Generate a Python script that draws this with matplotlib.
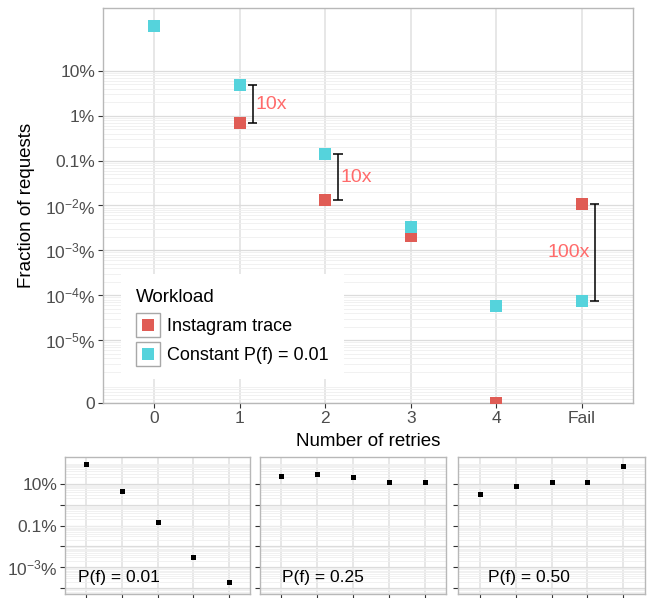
import matplotlib
matplotlib.use('Agg')
import numpy as np
import matplotlib.pyplot as plt
from matplotlib.lines import Line2D
from matplotlib.legend_handler import HandlerTuple
from matplotlib.ticker import FixedLocator

plt.rcParams['font.family'] = ['Liberation Sans', 'DejaVu Sans']
plt.rcParams['mathtext.fontset'] = 'custom'
plt.rcParams['mathtext.rm'] = 'Liberation Sans'
plt.rcParams['mathtext.it'] = 'Liberation Sans:italic'
plt.rcParams['mathtext.bf'] = 'Liberation Sans:bold'

# main panel data (fraction of requests)
retries = ['0', '1', '2', '3', '4', 'Fail']
instagram = [0.99, 0.0068, 0.000129, 2.1e-5, 0.0, 1.07e-4]
constant = [0.965, 0.047, 0.0014, 3.3e-5, 5.9e-7, 7.6e-7]

# ratio brackets drawn between the two series
bracket_idx = [1, 2, 5]
bracket_txt = ['10x', '10x', '100x']

# small panels
small_retries = ['0', '1', '2', '3', 'Fail']
small_pf = ['0.01', '0.25', '0.50']
small_vals = [
    [0.89, 0.045, 0.0014, 3.0e-5, 2.1e-6],
    [0.22, 0.29, 0.21, 0.115, 0.115],
    [0.031, 0.077, 0.115, 0.125, 0.66],
]

ZERO = 4e-9  # where "0" sits on the log axis

RED = '#E05C55'
CYAN = '#55D3DC'
NOTE = '#FF6B6B'
GRID_MAJ = '#DCDCDC'
GRID_MIN = '#EFEFEF'
SPINE = '#B8B8B8'
TICKLAB = '#4D4D4D'


def style_axes(ax):
    for s in ax.spines.values():
        s.set_color(SPINE)
        s.set_linewidth(1.0)
    ax.tick_params(which='major', length=3.5, width=0.8, color='#333333',
                   labelcolor=TICKLAB, labelsize=12.5, pad=2)
    ax.tick_params(which='minor', length=0)
    ax.grid(True, which='major', axis='y', color=GRID_MAJ, lw=0.9, zorder=0)
    ax.grid(True, which='minor', axis='y', color=GRID_MIN, lw=0.6, zorder=0)
    ax.grid(True, which='major', axis='x', color='#E3E3E3', lw=1.2, zorder=0)
    ax.set_axisbelow(True)


def minor_lines(lo, hi, dmin, dmax):
    vals = []
    for d in range(dmin, dmax):
        for s in range(2, 10):
            v = s * 10.0 ** d
            if lo < v < hi:
                vals.append(v)
    return vals


fig = plt.figure(figsize=(6.47, 5.98), dpi=100)
W, H = 647, 598

# ---- main panel ----
ax = fig.add_axes([103 / W, 1 - 403 / H, 530 / W, 395 / H])
x = np.arange(len(retries))
ax.set_yscale('log')
ax.set_xlim(-0.6, len(retries) - 0.4)
ax.set_ylim(ZERO, 2.49)

ig = [v if v > 0 else ZERO for v in instagram]
ax.plot(x, ig, 's', color=RED, ms=8, mew=0, zorder=3)
ax.plot(x, constant, 's', color=CYAN, ms=8, mew=0, zorder=4)

yt = [ZERO, 1e-7, 1e-6, 1e-5, 1e-4, 1e-3, 1e-2, 1e-1]
ytl = ['0', r'$10^{-5}$%', r'$10^{-4}$%', r'$10^{-3}$%', r'$10^{-2}$%',
       '0.1%', '1%', '10%']
ax.yaxis.set_major_locator(FixedLocator(yt))
ax.set_yticklabels(ytl)
ax.yaxis.set_minor_locator(FixedLocator(minor_lines(ZERO, 0.1, -9, -1)))
ax.yaxis.set_minor_formatter(plt.NullFormatter())
ax.set_xticks(x)
ax.set_xticklabels(retries)
style_axes(ax)
ax.set_ylabel('Fraction of requests', fontsize=13.5, labelpad=7)
ax.set_xlabel('Number of retries', fontsize=13.5, labelpad=5)

for i, t in zip(bracket_idx, bracket_txt):
    lo = min(ig[i], constant[i])
    hi = max(ig[i], constant[i])
    bx = x[i] + 0.15
    ax.vlines(bx, lo, hi, color='black', lw=1.1, zorder=5)
    ax.hlines([lo, hi], bx - 0.055, bx + 0.055, color='black', lw=1.1, zorder=5)
    mid = np.sqrt(lo * hi)
    if i == len(retries) - 1:
        ax.text(bx - 0.05, mid, t, color=NOTE, fontsize=14, ha='right', va='center')
    else:
        ax.text(bx + 0.03, mid, t, color=NOTE, fontsize=14, ha='left', va='center')

key_box = Line2D([], [], marker='s', ms=17.5, mfc='white', mec='#A8A8A8',
                 mew=1.0, ls='')
h_red = Line2D([], [], marker='s', ms=8, color=RED, mew=0, ls='')
h_cyan = Line2D([], [], marker='s', ms=8, color=CYAN, mew=0, ls='')
leg = ax.legend([(key_box, h_red), (key_box, h_cyan)],
                ['Instagram trace', 'Constant P(f) = 0.01'],
                handler_map={tuple: HandlerTuple(ndivide=1, pad=0)},
                title='Workload', loc='lower left',
                bbox_to_anchor=(0.034, 0.06), borderaxespad=0,
                fontsize=13, title_fontsize=13.5, alignment='left',
                frameon=True, fancybox=False, framealpha=1,
                facecolor='white', edgecolor='none',
                handlelength=1.3, handletextpad=0.4, labelspacing=0.65,
                borderpad=0.85)
leg.set_zorder(6)

# ---- small panels ----
lefts = [65, 260, 458]
widths = [185, 186, 187]
label_x = [0.07, 0.117, 0.162]
xs = np.arange(len(small_retries))
for k, (vals, pf) in enumerate(zip(small_vals, small_pf)):
    sa = fig.add_axes([lefts[k] / W, 1 - 594 / H, widths[k] / W, 137 / H])
    sa.set_yscale('log')
    sa.set_xlim(-0.6, len(small_retries) - 0.4)
    sa.set_ylim(5.4e-7, 1.86)
    sa.plot(xs, vals, 's', color='black', ms=3.6, mew=0, zorder=3)
    sa.yaxis.set_major_locator(FixedLocator([1e-6, 1e-5, 1e-4, 1e-3, 1e-2, 1e-1]))
    if k == 0:
        sa.set_yticklabels(['', r'$10^{-3}$%', '', '0.1%', '', '10%'])
    else:
        sa.set_yticklabels([])
    sa.yaxis.set_minor_locator(FixedLocator(minor_lines(5.4e-7, 1.86, -7, 1)))
    sa.yaxis.set_minor_formatter(plt.NullFormatter())
    sa.set_xticks(xs)
    sa.set_xticklabels([])
    style_axes(sa)
    sa.text(label_x[k], 0.124, 'P(f) = ' + pf, transform=sa.transAxes,
            fontsize=12.5, ha='left', va='center', color='black')

fig.savefig('out.png', dpi=100)
